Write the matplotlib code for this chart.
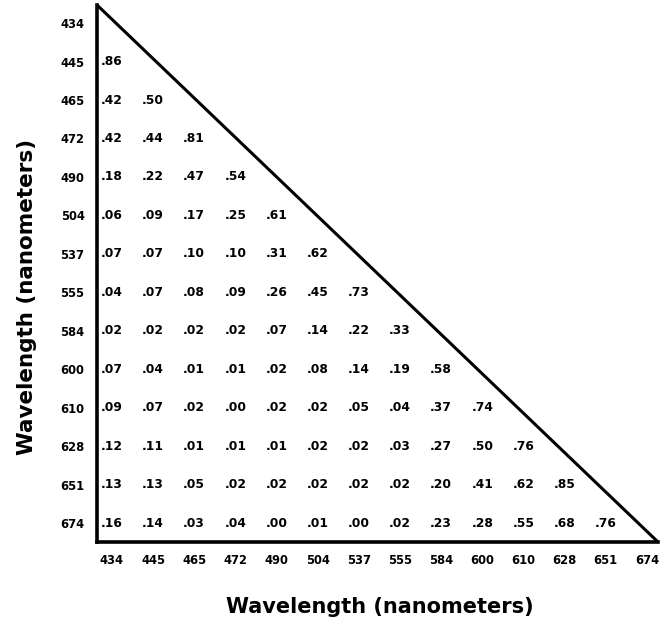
import matplotlib
matplotlib.use("Agg")
import matplotlib.pyplot as plt

wavelengths = ["434", "445", "465", "472", "490", "504", "537", "555",
               "584", "600", "610", "628", "651", "674"]

# lower-triangle similarity values, row i has i entries (columns 0..i-1)
row_445 = [".86"]
row_465 = [".42", ".50"]
row_472 = [".42", ".44", ".81"]
row_490 = [".18", ".22", ".47", ".54"]
row_504 = [".06", ".09", ".17", ".25", ".61"]
row_537 = [".07", ".07", ".10", ".10", ".31", ".62"]
row_555 = [".04", ".07", ".08", ".09", ".26", ".45", ".73"]
row_584 = [".02", ".02", ".02", ".02", ".07", ".14", ".22", ".33"]
row_600 = [".07", ".04", ".01", ".01", ".02", ".08", ".14", ".19", ".58"]
row_610 = [".09", ".07", ".02", ".00", ".02", ".02", ".05", ".04", ".37", ".74"]
row_628 = [".12", ".11", ".01", ".01", ".01", ".02", ".02", ".03", ".27", ".50", ".76"]
row_651 = [".13", ".13", ".05", ".02", ".02", ".02", ".02", ".02", ".20", ".41", ".62", ".85"]
row_674 = [".16", ".14", ".03", ".04", ".00", ".01", ".00", ".02", ".23", ".28", ".55", ".68", ".76"]

rows = [[], row_445, row_465, row_472, row_490, row_504, row_537, row_555,
        row_584, row_600, row_610, row_628, row_651, row_674]

plt.rcParams['font.family'] = ['DejaVu Sans']

W, H = 661, 627
fig = plt.figure(figsize=(W / 100, H / 100), dpi=100)
left, right, top, bottom = 97, 658, 5, 542
ax = fig.add_axes([left / W, 1 - bottom / H, (right - left) / W, (bottom - top) / H])

n = len(wavelengths)
ax.set_xlim(-0.36, n - 1 + 0.27)
ax.set_ylim(n - 1 + 0.49, -0.47)

for i, vals in enumerate(rows):
    for j, v in enumerate(vals):
        ax.text(j, i, v, ha='center', va='center', fontsize=8.8, fontweight='bold')

ax.set_xticks(range(n))
ax.set_xticklabels(wavelengths, fontsize=8.3, fontweight='bold')
ax.set_yticks(range(n))
ax.set_yticklabels(wavelengths, fontsize=8.3, fontweight='bold')
ax.tick_params(length=0)
ax.tick_params(axis='x', pad=9)
ax.tick_params(axis='y', pad=9)

for s in ['top', 'right']:
    ax.spines[s].set_visible(False)
for s in ['left', 'bottom']:
    ax.spines[s].set_linewidth(2.6)
ax.plot([0, 1], [1, 0], transform=ax.transAxes, color='black', lw=2.2,
        clip_on=False, solid_capstyle='butt')

fig.text(380 / W, 1 - 607 / H, "Wavelength (nanometers)", ha='center', va='center',
         fontsize=15, fontweight='bold')
fig.text(27 / W, 1 - 297 / H, "Wavelength (nanometers)", ha='center', va='center',
         fontsize=15.5, fontweight='bold', rotation=90)

fig.savefig("out.png", dpi=100, facecolor='white')
